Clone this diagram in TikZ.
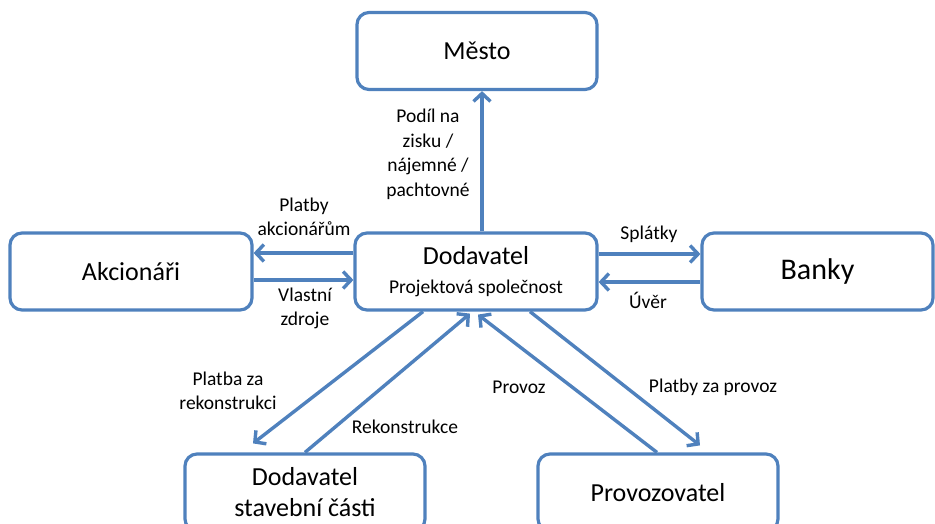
\documentclass[tikz,border=0pt]{standalone}
\usepackage{fontspec}
\setmainfont{Carlito}
\usetikzlibrary{arrows.meta}
\definecolor{ofblue}{RGB}{79,129,189}
\begin{document}
\begin{tikzpicture}[x=1pt,y=-1pt,
  box/.style={draw=ofblue, line width=3.2pt, rounded corners=12pt, fill=white,
    minimum width=#1, minimum height=77pt, inner sep=0pt, align=center,
    font=\fontsize{26}{31}\selectfont},
  box/.default=240pt,
  lbl/.style={inner sep=0pt, align=center, font=\fontsize{19.5}{24.5}\selectfont},
  arr/.style={draw=ofblue, line width=3.4pt, -{Straight Barb[length=8pt,width=17pt]}}]
\useasboundingbox (0,0) rectangle (935,523);
\begin{scope}
\clip (0,0) rectangle (935,523);
\node[box] (mesto) at (477,51) {Město};
\node[box=242pt] (akc) at (131,271.5) {Akcionáři};
\node[box=242pt] (dod) at (476,271.5) {Dodavatel\\[-2pt]{\fontsize{19.5}{24}\selectfont Projektová společnost}};
\node[box=231pt, font=\fontsize{30}{36}\selectfont] (banky) at (817.5,271.5) {Banky};
\node[box] (dsc) at (305,492.5) {Dodavatel\\stavební části};
\node[box] (prov) at (658,492.5) {Provozovatel};

\draw[arr] ([xshift=6pt]dod.north) -- ([xshift=5pt]mesto.south);
\draw[arr] ([yshift=18.5pt]dod.west) -- ([yshift=18.5pt]akc.east);
\draw[arr] ([yshift=-8.5pt]akc.east) -- ([yshift=-8.5pt]dod.west);
\draw[arr] ([yshift=17.5pt]dod.east) -- ([yshift=17.5pt]banky.west);
\draw[arr] ([yshift=-10.5pt]banky.west) -- ([yshift=-10.5pt]dod.east);
\draw[arr] ([xshift=-53pt]dod.south) -- ([xshift=-52pt,yshift=9pt]dsc.north);
\draw[arr] (dsc.north) -- ([xshift=-6pt,yshift=-2pt]dod.south);
\draw[arr] ([xshift=-1pt]prov.north) -- ([xshift=2pt,yshift=-3pt]dod.south);
\draw[arr] ([xshift=54pt]dod.south) -- ([xshift=42pt,yshift=7pt]prov.north);

\node[lbl] (lpodil) at (428,154.5) {Podíl na\\zisku /\\nájemné /\\pachtovné};
\node[lbl] (lplatby) at (304,217) {Platby\\akcionářům};
\node[lbl] (lvlastni) at (305,308.5) {Vlastní\\zdroje};
\node[lbl] (lsplatky) at (649,234) {Splátky};
\node[lbl] (luver) at (648,300) {Úvěr};
\node[lbl] (lplatba) at (228,391) {Platba za\\rekonstrukci};
\node[lbl] (lrekon) at (405,427) {Rekonstrukce};
\node[lbl] (lprovoz) at (519,387) {Provoz};
\node[lbl] (lplprov) at (713,387) {Platby za provoz};
\end{scope}
\end{tikzpicture}
\end{document}
